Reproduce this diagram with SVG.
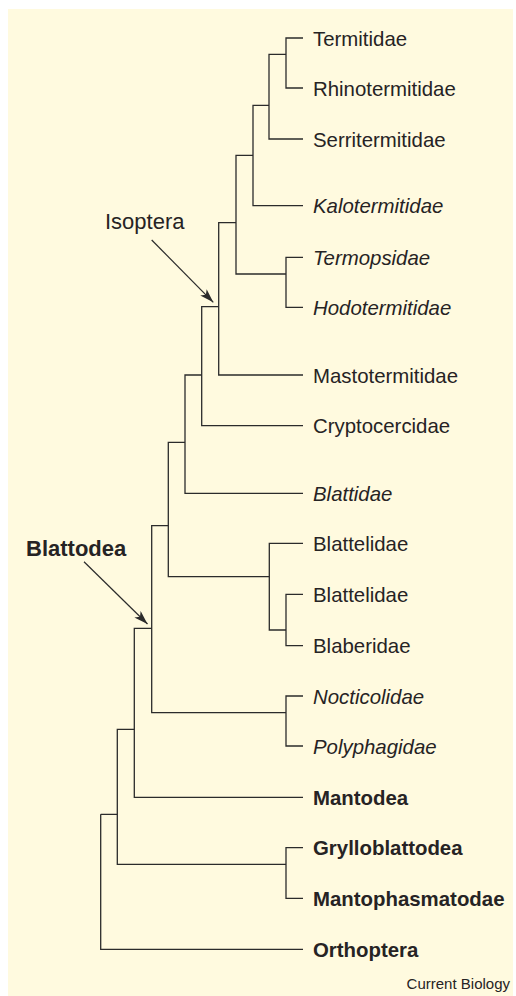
<svg xmlns="http://www.w3.org/2000/svg" width="516" height="996" viewBox="0 0 516 996">
<defs>
<style>
.bg{fill:#fffadf}
.ln{fill:none;stroke:#2b2b2b;stroke-width:1.3}
.ar{fill:none;stroke:#2b2b2b;stroke-width:1.2}
text{font-family:"Liberation Sans",Arial,sans-serif;fill:#262324}
.lf{font-size:20.4px}
.it{font-style:italic}
.bd{font-weight:bold}
.ann{font-size:22px}
.cr{font-size:15px}
</style>
<marker id="ah" viewBox="0 0 14 9" refX="14" refY="4.5" markerWidth="14" markerHeight="9" markerUnits="userSpaceOnUse" orient="auto">
<path d="M0,0 L14,4.5 L0,9 L3.5,4.5 Z" fill="#2b2b2b"/>
</marker>
</defs>
<rect class="bg" x="8" y="9" width="505" height="987"/>
<g id="connectors">
<path class="ln" d="M286,54.3 V38 H303 M286,54.3 V88 H303"/>
<path class="ln" d="M269,105.3 V54.3 H286 M269,105.3 V139 H303"/>
<path class="ln" d="M253,155.3 V105.3 H269 M253,155.3 V205.7 H303"/>
<path class="ln" d="M286,274 V257.3 H303 M286,274 V307.3 H303"/>
<path class="ln" d="M236,222.7 V155.3 H253 M236,222.7 V274 H286"/>
<path class="ln" d="M218.7,306.7 V222.7 H236 M218.7,306.7 V375 H303"/>
<path class="ln" d="M201.7,375 V306.7 H218.7 M201.7,375 V425.7 H303"/>
<path class="ln" d="M185,442.3 V375 H201.7 M185,442.3 V493.3 H303"/>
<path class="ln" d="M286,630 V594.3 H303 M286,630 V645.7 H303"/>
<path class="ln" d="M269.3,576.7 V543.3 H303 M269.3,576.7 V630 H286"/>
<path class="ln" d="M168.3,525.7 V442.3 H185 M168.3,525.7 V576.7 H269.3"/>
<path class="ln" d="M286,712.7 V696 H303 M286,712.7 V746 H303"/>
<path class="ln" d="M151.7,628.3 V525.7 H168.3 M151.7,628.3 V712.7 H286"/>
<path class="ln" d="M134.3,729.3 V628.3 H151.7 M134.3,729.3 V797.3 H303"/>
<path class="ln" d="M286,864.3 V847.7 H303 M286,864.3 V898.3 H303"/>
<path class="ln" d="M117.3,814.3 V729.3 H134.3 M117.3,814.3 V864.3 H286"/>
<path class="ln" d="M100.7,814.3 H117.3 M100.7,814.3 V949.3 H303"/>
<line class="ar" x1="151.7" y1="240" x2="213.3" y2="302.3" marker-end="url(#ah)"/>
<line class="ar" x1="84" y1="561.7" x2="147.5" y2="624" marker-end="url(#ah)"/>
</g>
<g id="termitidae"><text class="lf" x="313" y="45.5">Termitidae</text></g>
<g id="rhinotermitidae"><text class="lf" x="313" y="95.5">Rhinotermitidae</text></g>
<g id="serritermitidae"><text class="lf" x="313" y="146.5">Serritermitidae</text></g>
<g id="kalotermitidae"><text class="lf it" x="313" y="213">Kalotermitidae</text></g>
<g id="termopsidae"><text class="lf it" x="313" y="264.5">Termopsidae</text></g>
<g id="hodotermitidae"><text class="lf it" x="313" y="314.5">Hodotermitidae</text></g>
<g id="mastotermitidae"><text class="lf" x="313" y="382.5">Mastotermitidae</text></g>
<g id="cryptocercidae"><text class="lf" x="313" y="433">Cryptocercidae</text></g>
<g id="blattidae"><text class="lf it" x="313" y="500.5">Blattidae</text></g>
<g id="blattelidae1"><text class="lf" x="313" y="550.5">Blattelidae</text></g>
<g id="blattelidae2"><text class="lf" x="313" y="601.5">Blattelidae</text></g>
<g id="blaberidae"><text class="lf" x="313" y="653">Blaberidae</text></g>
<g id="nocticolidae"><text class="lf it" x="313" y="703.5">Nocticolidae</text></g>
<g id="polyphagidae"><text class="lf it" x="313" y="753.5">Polyphagidae</text></g>
<g id="mantodea"><text class="lf bd" x="313" y="804.5">Mantodea</text></g>
<g id="grylloblattodea"><text class="lf bd" x="313" y="855">Grylloblattodea</text></g>
<g id="mantophasmatodae"><text class="lf bd" x="313" y="905.5">Mantophasmatodae</text></g>
<g id="orthoptera"><text class="lf bd" x="313" y="956.5">Orthoptera</text></g>
<g id="isoptera"><text class="ann" x="105" y="229">Isoptera</text></g>
<g id="blattodea"><text class="ann bd" x="26" y="555.5">Blattodea</text></g>
<g id="credit"><text class="cr" x="510" y="989" text-anchor="end">Current Biology</text></g>
</svg>
